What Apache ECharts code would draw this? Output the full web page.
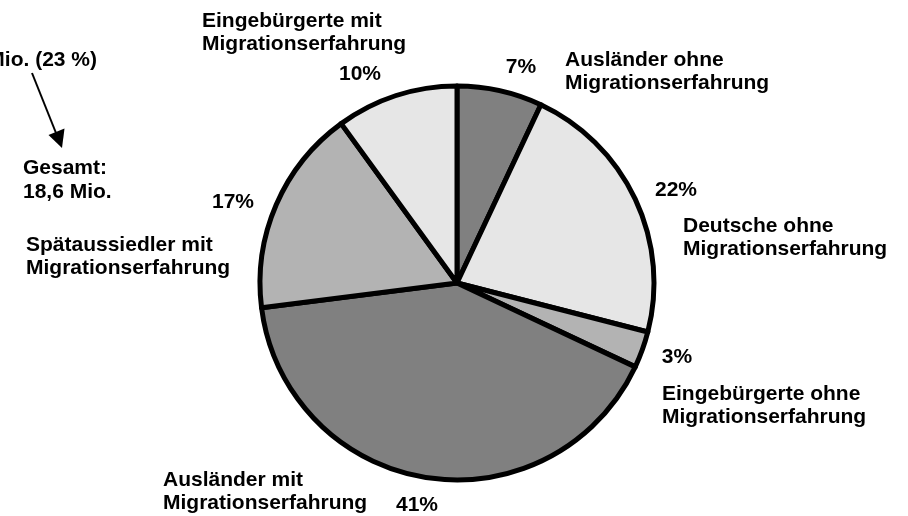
<!DOCTYPE html>
<html>
<head>
<meta charset="utf-8">
<script src="https://cdn.jsdelivr.net/npm/echarts@6/dist/echarts.min.js"></script>
<style>
  html, body { margin: 0; padding: 0; background: #fff; }
  #chart { width: 908px; height: 516px; }
</style>
</head>
<body>
<div id="chart"></div>
<script>
// slices clockwise from 12 o'clock
var names = [
  "Ausländer ohne\nMigrationserfahrung",
  "Deutsche ohne\nMigrationserfahrung",
  "Eingebürgerte ohne\nMigrationserfahrung",
  "Ausländer mit\nMigrationserfahrung",
  "Spätaussiedler mit\nMigrationserfahrung",
  "Eingebürgerte mit\nMigrationserfahrung"
];
var shares = [7, 22, 3, 41, 17, 10];
var colors = ["#808080", "#e6e6e6", "#b3b3b3", "#808080", "#b3b3b3", "#e6e6e6"];
var totalText = "Gesamt:\n18,6 Mio.";
var noteText = "4,3 Mio. (23 %)";

// label placement
var pctPos = [[521, 67], [676, 190], [677, 357], [417, 505], [233, 202], [360, 74]];
var namePos = [[565, 71.5], [683, 237.5], [662, 405.5], [163, 491.5], [26, 256.5], [202, 33]];

var font = '"Liberation Sans", Arial, sans-serif';
var chart = echarts.init(document.getElementById("chart"));

var data = shares.map(function (v, i) {
  return { name: names[i], value: v, itemStyle: { color: colors[i] } };
});

var graphics = names.map(function (n, i) {
  return {
    type: "text",
    x: namePos[i][0],
    y: namePos[i][1],
    style: {
      text: n,
      fill: "#000",
      font: "bold 21px " + font,
      lineHeight: 23,
      textAlign: "left",
      textVerticalAlign: "middle"
    }
  };
});

graphics.push({
  type: "text",
  x: 23,
  y: 180,
  style: {
    text: totalText,
    fill: "#000",
    font: "bold 21px " + font,
    lineHeight: 24,
    textAlign: "left",
    textVerticalAlign: "middle"
  }
});
graphics.push({
  type: "text",
  x: 97,
  y: 60,
  style: {
    text: noteText,
    fill: "#000",
    font: "bold 21px " + font,
    textAlign: "right",
    textVerticalAlign: "middle"
  }
});
// arrow
graphics.push({
  type: "line",
  shape: { x1: 32, y1: 73, x2: 56, y2: 133 },
  style: { stroke: "#000", lineWidth: 2 }
});
graphics.push({
  type: "polygon",
  shape: { points: [[64.5, 128.5], [48.5, 135], [62, 148]] },
  style: { fill: "#000" }
});

var option = {
  backgroundColor: "#fff",
  animation: false,
  series: [
    {
      type: "pie",
      center: [457, 283],
      radius: 197,
      startAngle: 90,
      clockwise: true,
      silent: true,
      itemStyle: {
        borderColor: "#000",
        borderWidth: 5
      },
      label: {
        show: true,
        position: "outside",
        formatter: "{c}%",
        color: "#000",
        fontFamily: font,
        fontWeight: "bold",
        fontSize: 21
      },
      labelLine: { show: false },
      labelLayout: function (p) {
        var pos = pctPos[p.dataIndex];
        return { x: pos[0], y: pos[1], align: "center", verticalAlign: "middle" };
      },
      data: data
    }
  ],
  graphic: graphics
};
chart.setOption(option);
</script>
</body>
</html>
